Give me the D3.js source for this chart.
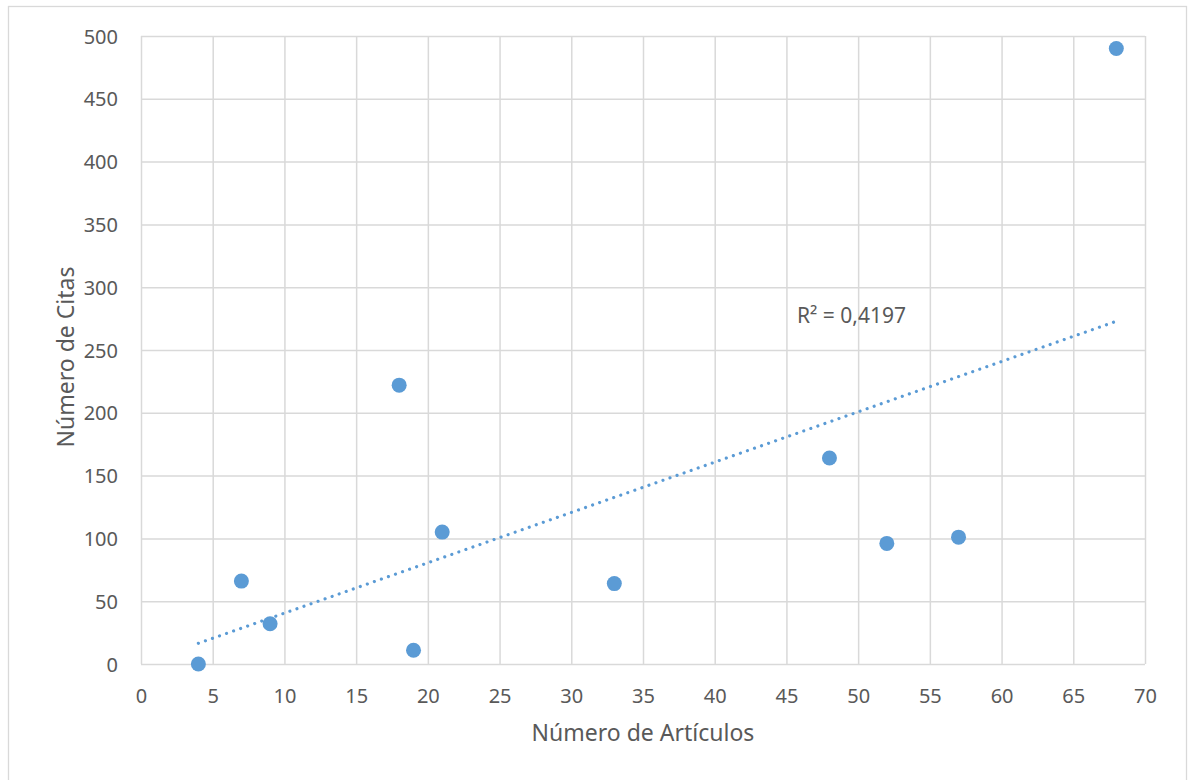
<!DOCTYPE html>
<html>
<head>
<meta charset="utf-8">
<script src="https://cdn.jsdelivr.net/npm/d3@7"></script>
<style>
  html, body { margin: 0; padding: 0; background: #fff; }
  svg { display: block; }
  text { font-family: "Noto Sans", "Open Sans", sans-serif; fill: #595959; }
</style>
</head>
<body>
<svg id="chart" width="1188" height="780"></svg>
<script>
const articulos = [4, 7, 9, 18, 19, 21, 33, 48, 52, 57, 68];
const citas = [0, 66, 32, 222, 11, 105, 64, 164, 96, 101, 490];
const xTicks = [0, 5, 10, 15, 20, 25, 30, 35, 40, 45, 50, 55, 60, 65, 70];
const yTicks = [0, 50, 100, 150, 200, 250, 300, 350, 400, 450, 500];
const xTitle = "Número de Artículos";
const yTitle = "Número de Citas";
const r2Label = "R² = 0,4197";

const svg = d3.select("#chart");
const m = { left: 141, right: 1145, top: 36, bottom: 664 };

// outer frame
svg.append("rect")
  .attr("x", 8.5).attr("y", 6.5)
  .attr("width", 1178).attr("height", 790)
  .attr("fill", "#fff").attr("stroke", "#d9d9d9").attr("stroke-width", 1.3);

const x = d3.scaleLinear().domain([0, 70]).range([m.left, m.right]);
const y = d3.scaleLinear().domain([0, 500]).range([m.bottom, m.top]);

const grid = "#d9d9d9";

// vertical gridlines
svg.append("g")
  .attr("transform", `translate(0,${m.bottom})`)
  .call(d3.axisBottom(x).tickValues(xTicks).tickSize(-(m.bottom - m.top)).tickFormat(""))
  .call(g => g.select(".domain").remove())
  .call(g => g.selectAll("line").attr("stroke", grid).attr("stroke-width", 1.5));

// horizontal gridlines
svg.append("g")
  .attr("transform", `translate(${m.left},0)`)
  .call(d3.axisLeft(y).tickValues(yTicks).tickSize(-(m.right - m.left)).tickFormat(""))
  .call(g => g.select(".domain").remove())
  .call(g => g.selectAll("line").attr("stroke", grid).attr("stroke-width", 1.5));

// x tick labels
svg.append("g")
  .attr("transform", `translate(0,${m.bottom})`)
  .call(d3.axisBottom(x).tickValues(xTicks).tickSize(0).tickPadding(0).tickFormat(d3.format("d")))
  .call(g => g.select(".domain").remove())
  .call(g => g.selectAll("text")
    .attr("y", 39).attr("dy", null)
    .style("font-size", "20px").attr("fill", "#595959"));

// y tick labels
svg.append("g")
  .attr("transform", `translate(${m.left},0)`)
  .call(d3.axisLeft(y).tickValues(yTicks).tickSize(0).tickPadding(0).tickFormat(d3.format("d")))
  .call(g => g.select(".domain").remove())
  .call(g => g.selectAll("text")
    .attr("x", -23).attr("dy", "0.35em")
    .style("font-size", "20px").attr("fill", "#595959"));

// linear regression trendline
const n = articulos.length;
const mx = d3.mean(articulos), my = d3.mean(citas);
let sxy = 0, sxx = 0;
for (let i = 0; i < n; i++) {
  sxy += (articulos[i] - mx) * (citas[i] - my);
  sxx += (articulos[i] - mx) ** 2;
}
const slope = sxy / sxx, intercept = my - slope * mx;
const xMin = d3.min(articulos), xMax = d3.max(articulos);
svg.append("line")
  .attr("x1", x(xMin)).attr("y1", y(slope * xMin + intercept))
  .attr("x2", x(xMax)).attr("y2", y(slope * xMax + intercept))
  .attr("stroke", "#5b9bd5").attr("stroke-width", 3.2)
  .attr("stroke-linecap", "round")
  .attr("stroke-dasharray", "0.01 7.45");

// points
svg.append("g").selectAll("circle")
  .data(articulos.map((a, i) => ({ a, c: citas[i] })))
  .join("circle")
  .attr("cx", d => x(d.a)).attr("cy", d => y(d.c))
  .attr("r", 7.5).attr("fill", "#5b9bd5");

// R² label
svg.append("text")
  .attr("x", 797).attr("y", 323)
  .style("font-size", "21px")
  .text(r2Label);

// axis titles
svg.append("text")
  .attr("x", 643).attr("y", 741)
  .attr("text-anchor", "middle")
  .style("font-size", "23px")
  .text(xTitle);

svg.append("text")
  .attr("transform", `translate(74,357) rotate(-90)`)
  .attr("text-anchor", "middle")
  .style("font-size", "23px")
  .text(yTitle);
</script>
</body>
</html>
